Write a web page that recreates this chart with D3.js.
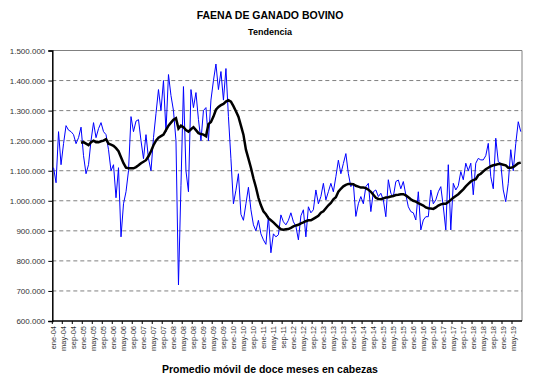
<!DOCTYPE html>
<html>
<head>
<meta charset="utf-8">
<script src="https://cdn.jsdelivr.net/npm/d3@7"></script>
<style>
  body { margin: 0; background: #fff; }
  svg { display: block; font-family: "Liberation Sans", Arial, sans-serif; }
</style>
</head>
<body>
<script>
// monthly slaughter, ene-04 .. ago-19 (head)
var faena = [
  1110000, 1060000, 1230000, 1120000, 1190000, 1250000, 1235000, 1230000, 1220000, 1190000, 1210000, 1245000,
  1150000, 1090000, 1120000, 1200000, 1260000, 1210000, 1240000, 1260000, 1230000, 1220000, 1170000, 1100000,
  1120000, 1010000, 1110000, 880000, 990000, 1030000, 1100000, 1280000, 1230000, 1265000, 1270000, 1200000,
  1140000, 1220000, 1140000, 1100000, 1210000, 1290000, 1370000, 1300000, 1400000, 1230000, 1420000, 1350000,
  1300000, 1200000, 720000, 1050000, 1380000, 1100000, 1030000, 1370000, 1310000, 1360000, 1270000, 1200000,
  1300000, 1310000, 1200000, 1335000, 1400000, 1455000, 1370000, 1430000, 1335000, 1440000, 1280000, 1140000,
  990000, 1035000, 1090000, 955000, 935000, 990000, 1045000, 970000, 920000, 900000, 935000, 890000,
  870000, 855000, 948000, 827000, 890000, 880000, 887000, 953000, 930000, 920000, 935000, 960000,
  930000, 915000, 870000, 950000, 970000, 880000, 980000, 960000, 970000, 1036000, 990000, 1014000,
  1058000, 1003000, 1030000, 1058000, 1030000, 1080000, 1135000, 1090000, 1124000, 1157000, 1090000, 1047000,
  1058000, 948000, 990000, 1014000, 990000, 1047000, 1058000, 964000, 1030000, 1036000, 1014000, 1025000,
  1003000, 947000, 1070000, 1025000, 1014000, 1064000, 1069000, 1040000, 1064000, 1020000, 980000, 964000,
  960000, 936000, 1030000, 903000, 936000, 947000, 947000, 1036000, 990000, 1003000, 1030000, 1047000,
  980000, 903000, 1120000, 903000, 1058000, 1036000, 1050000, 1097000, 1070000, 1125000, 1100000, 1125000,
  1020000, 1125000, 1141000, 1136000, 1136000, 1150000, 1191000, 1080000, 1040000, 1208000, 1130000, 1125000,
  1036000, 997000, 1058000, 1170000, 1100000, 1190000, 1263000, 1230000
];

// 12-month moving average, starts dic-04
var promedio = [
  null, null, null, null, null, null, null, null, null, null, null, 1193000,
  1195000, 1190000, 1185000, 1195000, 1200000, 1195000, 1195000, 1198000, 1200000, 1205000, 1190000, 1187000,
  1183000, 1175000, 1165000, 1145000, 1125000, 1110000, 1108000, 1108000, 1108000, 1112000, 1118000, 1125000,
  1130000, 1135000, 1148000, 1165000, 1185000, 1200000, 1210000, 1215000, 1220000, 1235000, 1250000, 1260000,
  1270000, 1275000, 1240000, 1250000, 1245000, 1235000, 1230000, 1238000, 1245000, 1235000, 1225000, 1222000,
  1220000, 1215000, 1255000, 1262000, 1280000, 1303000, 1312000, 1318000, 1322000, 1330000, 1335000, 1330000,
  1315000, 1298000, 1280000, 1250000, 1220000, 1170000, 1140000, 1110000, 1075000, 1045000, 1010000, 985000,
  965000, 955000, 942000, 935000, 928000, 920000, 912000, 905000, 904000, 905000, 906000, 910000,
  915000, 918000, 920000, 925000, 928000, 932000, 935000, 935000, 940000, 945000, 950000, 960000,
  965000, 975000, 985000, 993000, 1005000, 1012000, 1030000, 1040000, 1048000, 1053000, 1056000, 1056000,
  1055000, 1050000, 1047000, 1044000, 1044000, 1042000, 1037000, 1030000, 1020000, 1010000, 1006000, 1005000,
  1008000, 1011000, 1012000, 1014000, 1016000, 1019000, 1020000, 1022000, 1022000, 1018000, 1012000, 1005000,
  1000000, 997000, 992000, 988000, 984000, 978000, 975000, 974000, 973000, 978000, 984000, 988000,
  990000, 990000, 996000, 1003000, 1010000, 1016000, 1022000, 1030000, 1038000, 1048000, 1056000, 1064000,
  1069000, 1072000, 1085000, 1090000, 1098000, 1105000, 1110000, 1115000, 1118000, 1120000, 1122000, 1122000,
  1120000, 1118000, 1110000, 1110000, 1112000, 1118000, 1125000, 1127000
];

var meses = ["ene", "feb", "mar", "abr", "may", "jun", "jul", "ago", "sep", "oct", "nov", "dic"];
var anios = ["04", "05", "06", "07", "08", "09", "10", "11", "12", "13", "14", "15", "16", "17", "18", "19"];
var yTicks = [600000, 700000, 800000, 900000, 1000000, 1100000, 1200000, 1300000, 1400000, 1500000];

var categorias = [];
anios.forEach(function(a) {
  meses.forEach(function(m) { categorias.push(m + "-" + a); });
});
categorias = categorias.slice(0, faena.length);

var width = 537, height = 379;
var plotL = 52.3, plotR = 522, plotT = 50.5, plotB = 321;

var svg = d3.select("body").append("svg")
    .attr("width", width)
    .attr("height", height);

var x = d3.scaleBand()
    .domain(categorias)
    .range([plotL, plotR])
    .padding(0);

var y = d3.scaleLinear()
    .domain([600000, 1500000])
    .range([plotB, plotT]);

var loc = d3.formatLocale({ decimal: ",", thousands: ".", grouping: [3], currency: ["$", ""] });
var fmt = loc.format(",.0f");

// gridlines
svg.append("g")
    .selectAll("line")
    .data(yTicks.slice(1, -1))
    .join("line")
    .attr("x1", plotL)
    .attr("x2", plotR)
    .attr("y1", function(d) { return y(d); })
    .attr("y2", function(d) { return y(d); })
    .attr("stroke", "#808080")
    .attr("stroke-width", 1)
    .attr("stroke-dasharray", "4,3");

// top and right border
svg.append("path")
    .attr("d", "M" + plotL + "," + plotT + "H" + plotR + "V" + plotB)
    .attr("fill", "none")
    .attr("stroke", "#808080")
    .attr("stroke-width", 1);

// y axis
var yAxis = svg.append("g")
    .attr("transform", "translate(" + plotL + ",0)")
    .call(d3.axisLeft(y).tickValues(yTicks).tickSize(4).tickFormat(fmt));
yAxis.select(".domain").attr("stroke", "#000").attr("stroke-width", 1.5);
yAxis.selectAll("line").attr("stroke", "#000");
yAxis.selectAll("text")
    .attr("font-size", "8px")
    .attr("font-family", "'Liberation Sans', Arial, sans-serif")
    .attr("fill", "#333")
    .attr("x", -7);

// x axis: ticks every 4 months at the category boundaries
var xAxisG = svg.append("g")
    .attr("transform", "translate(0," + plotB + ")");
xAxisG.append("line")
    .attr("x1", plotL).attr("x2", plotR)
    .attr("stroke", "#000").attr("stroke-width", 1.5);
var tickCats = categorias.filter(function(c, i) { return i % 4 === 0; });
xAxisG.selectAll("line.tk")
    .data(tickCats)
    .join("line")
    .attr("class", "tk")
    .attr("x1", function(d) { return x(d); })
    .attr("x2", function(d) { return x(d); })
    .attr("y1", 0).attr("y2", 3)
    .attr("stroke", "#000");
xAxisG.selectAll("text")
    .data(tickCats)
    .join("text")
    .attr("transform", function(d) {
      return "translate(" + (x(d) + x.bandwidth() / 2) + ",5) rotate(-90)";
    })
    .attr("text-anchor", "end")
    .attr("dy", "0.33em")
    .attr("font-size", "7.5px")
    .attr("fill", "#333")
    .text(function(d) { return d; });

// series
var line = d3.line()
    .defined(function(d) { return d.v != null; })
    .x(function(d) { return x(d.c) + x.bandwidth() / 2; })
    .y(function(d) { return y(d.v); });

svg.append("path")
    .datum(categorias.map(function(c, i) { return { c: c, v: faena[i] }; }))
    .attr("d", line)
    .attr("fill", "none")
    .attr("stroke", "#0000ff")
    .attr("stroke-width", 1);

svg.append("path")
    .datum(categorias.map(function(c, i) { return { c: c, v: promedio[i] }; }))
    .attr("d", line)
    .attr("fill", "none")
    .attr("stroke", "#000")
    .attr("stroke-width", 2.5);

// titles
svg.append("text")
    .text("FAENA DE GANADO BOVINO")
    .attr("x", 270).attr("y", 19)
    .attr("text-anchor", "middle")
    .attr("font-size", "10.5px")
    .attr("font-weight", "bold");

svg.append("text")
    .text("Tendencia")
    .attr("x", 270).attr("y", 35)
    .attr("text-anchor", "middle")
    .attr("font-size", "9px")
    .attr("font-weight", "bold");

svg.append("text")
    .text("Promedio móvil de doce meses en cabezas")
    .attr("x", 270).attr("y", 373)
    .attr("text-anchor", "middle")
    .attr("font-size", "10.5px")
    .attr("font-weight", "bold");
</script>
</body>
</html>
